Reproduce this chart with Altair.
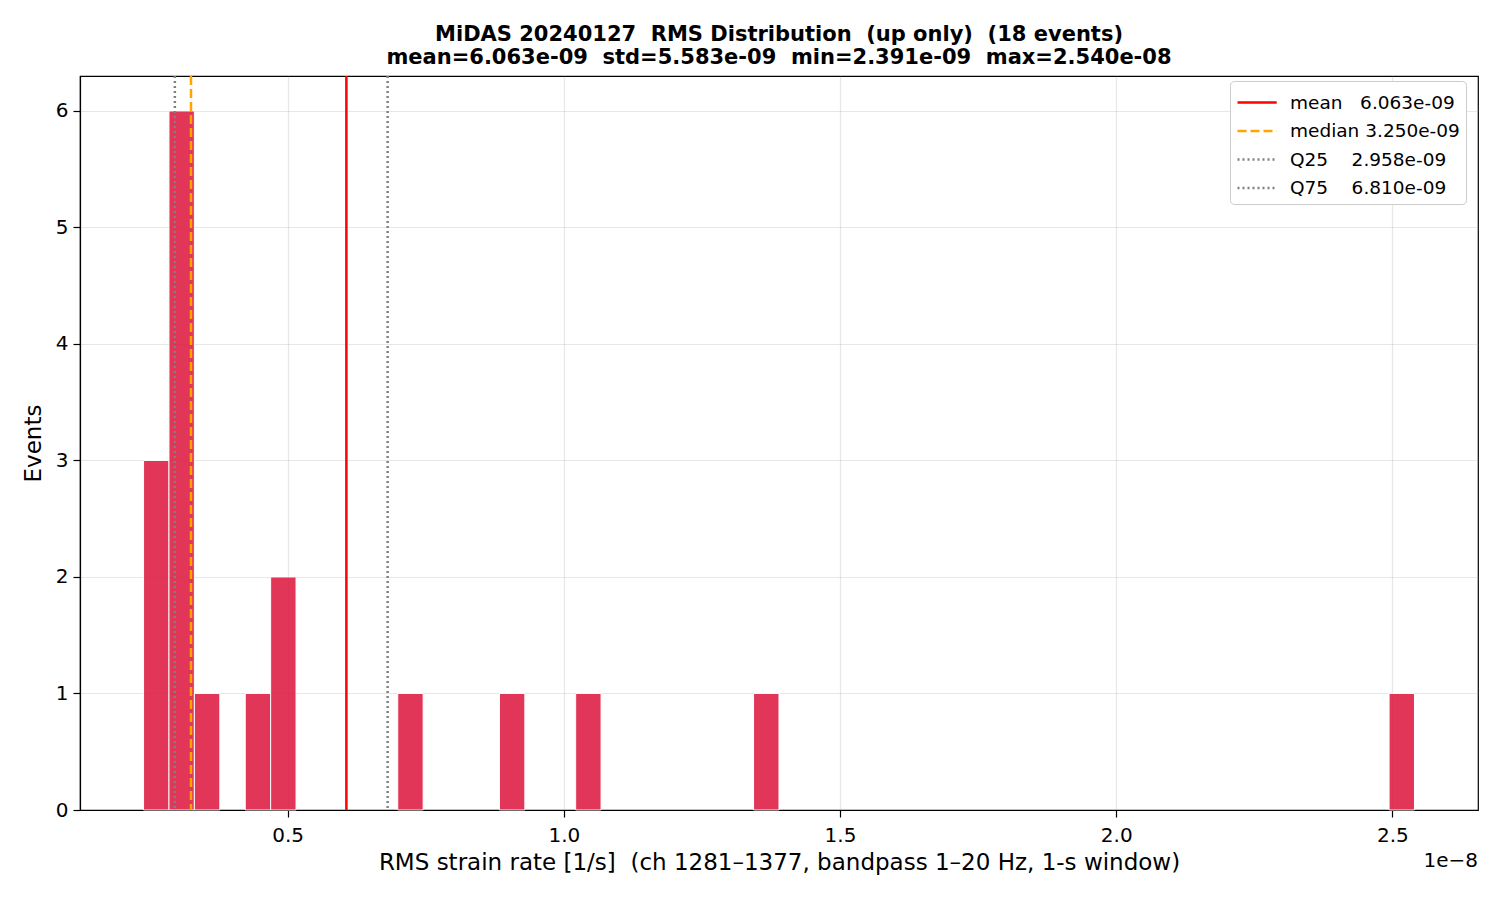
import altair as alt
import pandas as pd

# histogram bins (non-empty ones), values in 1/s
bin_lo = [2.391e-9, 2.851e-9, 3.311e-9, 4.232e-9, 4.692e-9, 6.993e-9, 8.834e-9, 10.214e-9, 13.435e-9, 24.940e-9]
bin_hi = [2.851e-9, 3.311e-9, 3.772e-9, 4.692e-9, 5.152e-9, 7.453e-9, 9.294e-9, 10.674e-9, 13.895e-9, 25.400e-9]
counts = [3, 6, 1, 1, 2, 1, 1, 1, 1, 1]

stat_names = ["mean", "median", "Q25", "Q75"]
stat_values = [6.063e-9, 3.250e-9, 2.958e-9, 6.810e-9]
stat_colors = ["#ff0000", "#ffa500", "#808080", "#808080"]
stat_dashes = [[1, 0], [9, 4], [2, 3], [2, 3]]
stat_widths = [2.5, 2.5, 1.5, 1.5]

x_ticks = [0.5e-8, 1.0e-8, 1.5e-8, 2.0e-8, 2.5e-8]
y_ticks = [0, 1, 2, 3, 4, 5, 6]

NB = "\u00a0"
FONT = "DejaVu Sans"

hist_df = pd.DataFrame({"lo": bin_lo, "hi": bin_hi, "count": counts})
stat_labels = [n.ljust(7).replace(" ", NB) + f"{v:.3e}" for n, v in zip(stat_names, stat_values)]
stat_df = pd.DataFrame({"label": stat_labels, "value": stat_values})

x_scale = alt.Scale(domain=[1.2405e-9, 2.6550e-8], nice=False, zero=False)
y_scale = alt.Scale(domain=[0, 6.3], nice=False)

bars = (
    alt.Chart(hist_df)
    .mark_rect(color="#DC143C", opacity=0.85, stroke="white", strokeWidth=1)
    .encode(
        x=alt.X(
            "lo:Q",
            scale=x_scale,
            title="RMS strain rate [1/s]" + NB * 2 + "(ch 1281–1377, bandpass 1–20 Hz, 1-s window)",
            axis=alt.Axis(values=x_ticks, labelExpr="format(datum.value * 1e8, '.1f')"),
        ),
        x2="hi:Q",
        y=alt.Y("count:Q", scale=y_scale, title="Events", axis=alt.Axis(values=y_ticks)),
        y2=alt.datum(0),
    )
)

rules = (
    alt.Chart(stat_df)
    .mark_rule()
    .encode(
        x=alt.X("value:Q", scale=x_scale),
        color=alt.Color(
            "label:N",
            scale=alt.Scale(domain=stat_labels, range=stat_colors),
            legend=alt.Legend(
                title=None,
                orient="none",
                legendX=1150,
                legendY=5,
                symbolType="M-1,0H1.8",
                symbolSize=784,
                labelFontSize=18.5,
                labelFont=FONT,
                labelColor="black",
                labelOffset=23,
                labelLimit=400,
                rowPadding=3.5,
                padding=6,
                strokeColor="#cccccc",
                fillColor="white",
                cornerRadius=4,
            ),
        ),
        strokeDash=alt.StrokeDash(
            "label:N",
            scale=alt.Scale(domain=stat_labels, range=stat_dashes),
            legend=None,
        ),
        strokeWidth=alt.StrokeWidth(
            "label:N",
            scale=alt.Scale(domain=stat_labels, range=stat_widths),
            legend=None,
        ),
    )
)

offset_text = (
    alt.Chart(pd.DataFrame({"t": ["1e−8"]}))
    .mark_text(align="right", baseline="middle", fontSize=20, font=FONT, color="black")
    .encode(x=alt.value(1398), y=alt.value(785), text="t:N")
)

chart = (
    alt.layer(bars, rules, offset_text)
    .properties(
        width=1398,
        height=734,
        autosize=alt.AutoSizeParams(type="none"),
        padding={"left": 72, "top": 68, "right": 14, "bottom": 82},
        title=alt.TitleParams(
            text=[
                "MiDAS 20240127" + NB * 2 + "RMS Distribution" + NB * 2 + "(up only)" + NB * 2 + "(18 events)",
                "mean=6.063e-09" + NB * 2 + "std=5.583e-09" + NB * 2 + "min=2.391e-09" + NB * 2 + "max=2.540e-08",
            ],
            font=FONT,
            fontSize=21,
            fontWeight="bold",
            anchor="middle",
            offset=7,
            lineHeight=23,
            color="black",
        ),
    )
    .configure_view(stroke="black", strokeWidth=1.2)
    .configure_axis(
        labelFont=FONT,
        titleFont=FONT,
        labelFontSize=20,
        titleFontSize=23,
        titleFontWeight="normal",
        labelColor="black",
        titleColor="black",
        domainColor="black",
        domainWidth=1.2,
        tickColor="black",
        tickSize=7,
        tickWidth=1.2,
        gridColor="#b0b0b0",
        gridOpacity=0.3,
        gridWidth=1.2,
        labelPadding=5,
        zindex=1,
    )
    .configure_axisX(titlePadding=6, labelPadding=8)
    .configure_axisY(titlePadding=10)
)

chart.save("out.html", embed_options={"renderer": "svg", "actions": False})
